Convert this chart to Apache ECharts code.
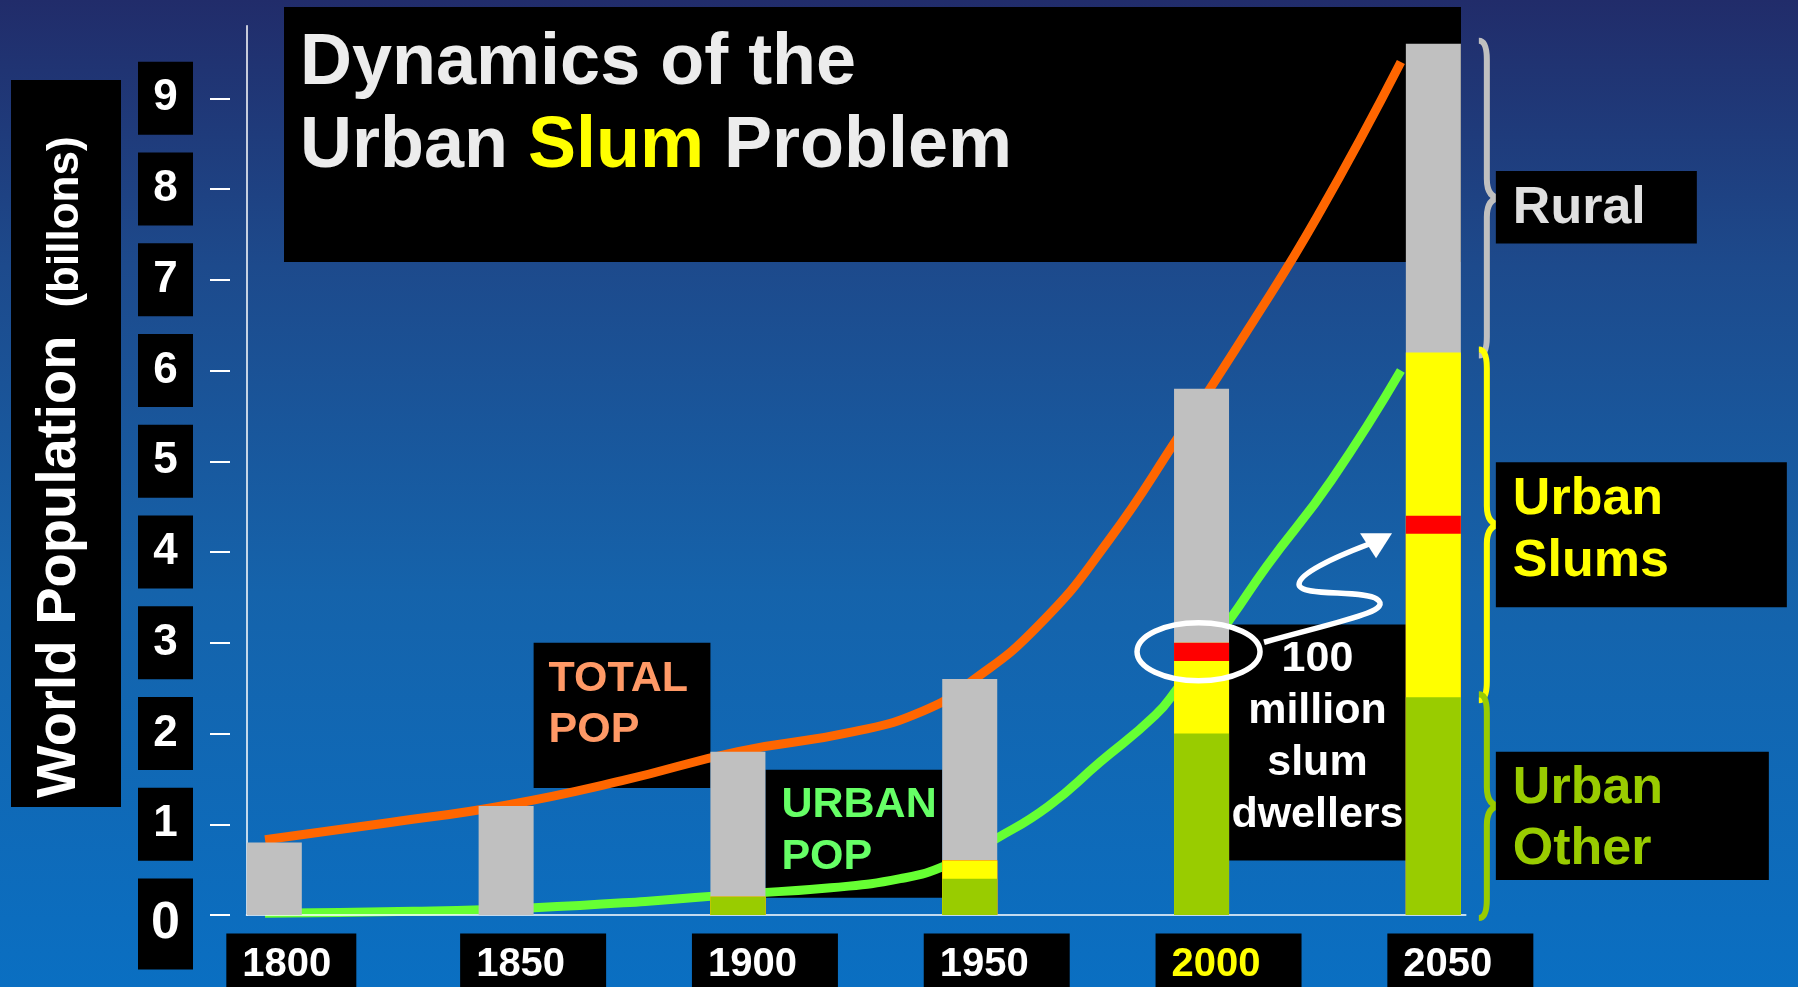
<!DOCTYPE html>
<html><head><meta charset="utf-8">
<script src="https://cdn.jsdelivr.net/npm/echarts@6/dist/echarts.min.js"></script>
<style>
html,body{margin:0;padding:0;width:1798px;height:987px;overflow:hidden;background:linear-gradient(#212c6a,#0a6fc2);}
#c{width:1798px;height:987px;}
</style>
</head><body><div id="c"></div>
<script>
// ---------------- data ----------------
const years = [1800, 1850, 1900, 1950, 2000, 2050];
const urbanOther = [0, 0, 0.2, 0.4, 2.0, 2.4];
const urbanSlums = [0, 0, 0, 0.2, 0.8, 1.8];
const slumMarker = [0, 0, 0, 0, 0.2, 0.2];
const urbanSlumsUpper = [0, 0, 0, 0, 0, 1.8];
const rural = [0.8, 1.2, 1.6, 2.0, 2.8, 3.4];
const totalPopYears = [1798, 1825, 1850, 1875, 1900, 1925, 1940, 1950, 1965, 1980, 1995, 2010, 2025, 2043];
const totalPopValues = [0.83, 1.02, 1.21, 1.48, 1.8, 2.02, 2.25, 2.56, 3.2, 4.13, 5.27, 6.45, 7.7, 9.4];
const urbanPopYears = [1798, 1830, 1856, 1880, 1900, 1920, 1935, 1945, 1956, 1967, 1978, 1990, 1995, 2006, 2014, 2028, 2043];
const urbanPopValues = [0.02, 0.04, 0.08, 0.15, 0.23, 0.3, 0.4, 0.55, 0.85, 1.2, 1.68, 2.2, 2.51, 3.25, 3.84, 4.79, 6.0];
const yTicks = [0, 1, 2, 3, 4, 5, 6, 7, 8, 9];
const noteTexts = ['TOTAL\nPOP', 'URBAN\nPOP', '100\nmillion\nslum\ndwellers'];
const notePairs = [[1850, 1900], [1900, 1950], [2000, 2050]];
const sideLabels = ['Rural', 'Urban\nSlums', 'Urban\nOther'];

// ---------------- layout / style ----------------
const FONT = '"Liberation Sans", Arial, Helvetica, sans-serif';
const BAR_W = 55, HALF = BAR_W / 2;
const NOTE_LAYOUT = [
  {top: 3.0, bottom: 1.4, color: '#ff9966', align: 'left', dx: 15, dy: 10.5, lh: 51},
  {top: 1.6, bottom: 0.19, color: '#66ff66', align: 'left', dx: 16, dy: 9.5, lh: 52},
  {top: 3.2, bottom: 0.6, color: '#ffffff', align: 'center', dx: 0, dy: 9, lh: 52}
];
const SIDE_LAYOUT = [
  {color: '#c0c0c0', text: '#e0e0e0', top: 8.2, bottom: 7.4, w: 201, mid: 38, lh: 62},
  {color: '#ffff00', text: '#ffff00', top: 4.99, bottom: 3.39, w: 291, mid: 68, lh: 62},
  {color: '#99cc00', text: '#99cc00', top: 1.8, bottom: 0.386, w: 273, mid: 67.5, lh: 61}
];

const sum = (a, b) => a.map((v, i) => +(v + b[i]).toFixed(3));
const cum1 = urbanOther.slice();
const cum2 = sum(cum1, urbanSlums);
const cum3 = sum(cum2, slumMarker);
const cum4 = sum(cum3, urbanSlumsUpper);
const cum5 = sum(cum4, rural);
const pairs = (xs, ys) => xs.map((x, i) => [x, ys[i]]);
const last = years.length - 1;
const iy2000 = years.indexOf(2000);

const barDefs = [
  ['Rural', cum5, '#c0c0c0'],
  ['Urban Slums', cum4, '#ffff00'],
  ['100 million slum dwellers', cum3, '#ff0000'],
  ['Urban Slums ', cum2, '#ffff00'],
  ['Urban Other', cum1, '#99cc00']
];
const barSeries = barDefs.map(d => ({
  type: 'bar', name: d[0], data: pairs(years, d[1]), barWidth: BAR_W, barGap: '-100%',
  itemStyle: {color: d[2]}, z: 4, silent: true
}));

function renderNote(params, api) {
  const i = params.dataIndex, L = NOTE_LAYOUT[i];
  const xl = api.coord([api.value(0), 0])[0] + HALF;
  const xr = api.coord([api.value(1), 0])[0] - HALF;
  const yt = api.coord([api.value(0), L.top])[1];
  const yb = api.coord([api.value(0), L.bottom])[1];
  const tx = L.align === 'center' ? (xl + xr) / 2 : xl + L.dx;
  return {type: 'group', children: [
    {type: 'rect', shape: {x: xl, y: yt, width: xr - xl, height: yb - yt}, style: {fill: '#000'}},
    {type: 'text', x: tx, y: yt + L.dy, style: {text: noteTexts[i], fill: L.color, fontSize: 43, fontWeight: 'bold',
      fontFamily: FONT, align: L.align, verticalAlign: 'top', lineHeight: L.lh}}
  ]};
}

function renderBrace(params, api) {
  const i = params.dataIndex, S = SIDE_LAYOUT[i];
  const pTop = api.coord([api.value(0), api.value(2)]);
  const pBot = api.coord([api.value(0), api.value(1)]);
  const barRight = pTop[0] + HALF;
  const xe = barRight + 18, xs = barRight + 26, xt = barRight + 40;
  const y1 = pTop[1] - 3, y2 = pBot[1] + 3, ym = (y1 + y2) / 2, h = 19;
  const d = 'M' + xe + ',' + y1 + ' Q' + xs + ',' + y1 + ' ' + xs + ',' + (y1 + h) +
    ' L' + xs + ',' + (ym - h) + ' Q' + xs + ',' + ym + ' ' + xt + ',' + ym +
    ' Q' + xs + ',' + ym + ' ' + xs + ',' + (ym + h) +
    ' L' + xs + ',' + (y2 - h) + ' Q' + xs + ',' + y2 + ' ' + xe + ',' + y2;
  const bx = barRight + 35;
  const bt = api.coord([api.value(0), S.top])[1];
  const bb = api.coord([api.value(0), S.bottom])[1];
  return {type: 'group', children: [
    {type: 'path', shape: {pathData: d}, style: {fill: 'none', stroke: S.color, lineWidth: 6}},
    {type: 'rect', shape: {x: bx, y: bt, width: S.w, height: bb - bt}, style: {fill: '#000'}},
    {type: 'text', x: bx + 17, y: bt + S.mid, style: {text: sideLabels[i], fill: S.text, fontSize: 52, fontWeight: 'bold',
      fontFamily: FONT, align: 'left', verticalAlign: 'middle', lineHeight: S.lh}}
  ]};
}

function renderArrow(params, api) {
  const a = api.coord([api.value(0), api.value(1)]);
  const ax = a[0], ay = a[1];
  const cx = ax - 3, cy = ay, rx = 61.5, ry = 29;
  const ell = 'M' + (cx - rx) + ',' + cy + ' A' + rx + ',' + ry + ' 0 1,0 ' + (cx + rx) + ',' + cy +
    ' A' + rx + ',' + ry + ' 0 1,0 ' + (cx - rx) + ',' + cy + ' Z';
  const P = (dx, dy) => (ax + dx) + ',' + (ay + dy);
  const sq = 'M' + P(62.5, -9.6) +
    ' C' + P(137.5, -30.6) + ' ' + P(192.5, -40.6) + ' ' + P(175.5, -52.6) +
    ' C' + P(162.5, -62.6) + ' ' + P(97.5, -54.6) + ' ' + P(97.5, -67.6) +
    ' C' + P(97.5, -77.6) + ' ' + P(127.5, -92.6) + ' ' + P(167, -107.6);
  return {type: 'group', children: [
    {type: 'path', shape: {pathData: ell}, style: {fill: 'none', stroke: '#fff', lineWidth: 5.5}},
    {type: 'path', shape: {pathData: sq}, style: {fill: 'none', stroke: '#fff', lineWidth: 5.5}},
    {type: 'polygon', shape: {points: [[ax + 190.5, ay - 118.6], [ax + 158.5, ay - 118.6], [ax + 174.5, ay - 93.6]]},
      style: {fill: '#fff'}}
  ]};
}

const xRich = {
  s1: {width: 34}, s2: {width: 54},
  w: {backgroundColor: '#000', color: '#fff', fontSize: 40, fontWeight: 'bold', fontFamily: FONT, lineHeight: 40, padding: [11, 41, 20, 16]},
  y: {backgroundColor: '#000', color: '#ffff00', fontSize: 40, fontWeight: 'bold', fontFamily: FONT, lineHeight: 40, padding: [11, 41, 20, 16]},
  n: {backgroundColor: '#000', color: '#fff', fontSize: 40, fontWeight: 'bold', fontFamily: FONT, lineHeight: 40, padding: [11, 25, 20, 16]}
};
const yRich = {
  d: {backgroundColor: '#000', color: '#fff', fontSize: 44, fontWeight: 'bold', fontFamily: FONT, width: 55, height: 73, lineHeight: 73, align: 'center'},
  z: {backgroundColor: '#000', color: '#fff', fontSize: 52, fontWeight: 'bold', fontFamily: FONT, width: 55, height: 91, lineHeight: 91, align: 'center'},
  sp: {width: 1, height: 18, lineHeight: 18}
};

const chart = echarts.init(document.getElementById('c'), null, {renderer: 'canvas'});
chart.setOption({
  animation: false,
  backgroundColor: new echarts.graphic.LinearGradient(0, 0, 0, 1, [
    {offset: 0, color: '#212c6a'}, {offset: 0.27, color: '#1d4a8c'},
    {offset: 0.6, color: '#1563ab'}, {offset: 1, color: '#0a6fc2'}
  ]),
  grid: {left: 246.5, top: 25.7, width: 1219.3, height: 889.3, containLabel: false, outerBoundsMode: 'none'},
  xAxis: {
    type: 'value', min: 1794, max: 2057, z: 3,
    axisLine: {show: true, onZero: false, lineStyle: {color: '#ffffff', width: 1.5}},
    axisTick: {show: false}, splitLine: {show: false},
    axisLabel: {
      show: true, customValues: years, margin: 34, align: 'center', verticalAlign: 'top',
      showMinLabel: true, showMaxLabel: true, hideOverlap: false,
      formatter: v => (v === 1800 ? '{s1|}{n|' : '{s2|}{' + (v === 2000 ? 'y' : 'w') + '|') + v + '}',
      rich: xRich
    }
  },
  yAxis: [
    {type: 'value', min: 0, max: 9.8, position: 'left', z: 3,
      axisLine: {show: true, onZero: false, lineStyle: {color: '#ffffff', width: 1.5}},
      axisTick: {show: false}, axisLabel: {show: false}, splitLine: {show: false}},
    {type: 'value', min: 0, max: 9.8, position: 'left', offset: 16.5, z: 3,
      axisLine: {show: false}, splitLine: {show: false},
      axisTick: {show: true, length: 20, customValues: yTicks, lineStyle: {color: '#ffffff', width: 2}},
      axisLabel: {show: true, customValues: yTicks.filter(v => v > 0), margin: 64.5, align: 'center', fontSize: 44,
        hideOverlap: false, formatter: v => '{d|' + v + '}', rich: yRich}},
    {type: 'value', min: 0, max: 9.8, position: 'left', offset: 16.5, z: 3,
      axisLine: {show: false}, splitLine: {show: false}, axisTick: {show: false},
      axisLabel: {show: true, customValues: yTicks.filter(v => v === 0), margin: 64.5, align: 'center', fontSize: 44, lineHeight: 18,
        hideOverlap: false, showMinLabel: true, formatter: v => '{sp|}\n{z|' + v + '}', rich: yRich}}
  ],
  graphic: [
    {type: 'rect', z: 0, shape: {x: 284, y: 7, width: 1177, height: 255}, style: {fill: '#000'}},
    {type: 'text', z: 0, x: 300, y: 23, style: {
      text: 'Dynamics of the\nUrban {s|Slum} Problem', fill: '#ececec', fontSize: 72, fontWeight: 'bold',
      fontFamily: FONT, lineHeight: 83, align: 'left', verticalAlign: 'top',
      rich: {s: {fill: '#ffff00', fontSize: 72, fontWeight: 'bold', fontFamily: FONT, lineHeight: 83}}}},
    {type: 'rect', z: 0, shape: {x: 11, y: 80, width: 110, height: 727}, style: {fill: '#000'}},
    {type: 'text', z: 0, x: 59.5, y: 798, rotation: Math.PI / 2, style: {
      text: 'World Population{b|(billons)}', fill: '#ffffff', fontSize: 56, fontWeight: 'bold', fontFamily: FONT,
      lineHeight: 56, align: 'left', verticalAlign: 'middle',
      rich: {b: {fill: '#ffffff', fontSize: 44, fontWeight: 'bold', fontFamily: FONT, lineHeight: 44,
        verticalAlign: 'bottom', padding: [0, 0, 0, 28]}}}}
  ],
  series: [
    {type: 'custom', name: 'notes', data: notePairs, renderItem: renderNote, z: 1, silent: true, clip: false},
    {type: 'line', name: 'TOTAL POP', data: pairs(totalPopYears, totalPopValues), smooth: 0.5, showSymbol: false,
      symbol: 'none', lineStyle: {color: '#ff6600', width: 9}, itemStyle: {color: '#ff6600'}, z: 2, silent: true},
    {type: 'line', name: 'URBAN POP', data: pairs(urbanPopYears, urbanPopValues), smooth: 0.5, showSymbol: false,
      symbol: 'none', lineStyle: {color: '#66ff33', width: 9}, itemStyle: {color: '#66ff33'}, z: 2, silent: true}
  ].concat(barSeries).concat([
    {type: 'custom', name: 'braces', data: [[years[last], cum4[last], cum5[last]], [years[last], cum1[last], cum4[last]], [years[last], 0, cum1[last]]],
      renderItem: renderBrace, z: 5, silent: true, clip: false},
    {type: 'custom', name: 'slum marker', data: [[years[iy2000], (cum2[iy2000] + cum3[iy2000]) / 2, years[last], (cum2[last] + cum3[last]) / 2]],
      renderItem: renderArrow, z: 6, silent: true, clip: false}
  ])
});
</script>
</body></html>
